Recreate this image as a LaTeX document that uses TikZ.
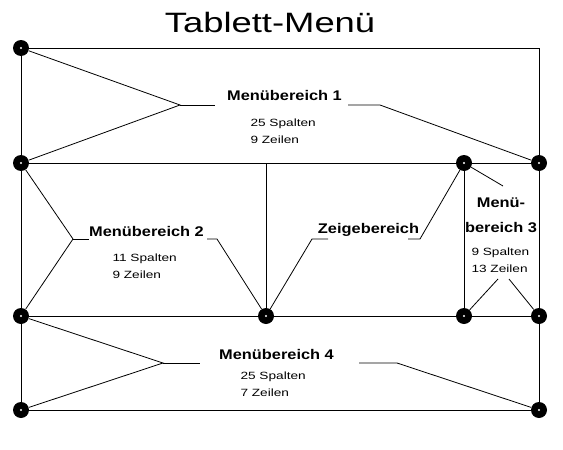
\documentclass[tikz,border=0pt]{standalone}
\usepackage{fontspec}
\setmainfont{Liberation Sans}
\usepackage{tikz}

\tikzset{
  kontakt/.style={circle, fill=black, minimum width=16pt, minimum height=16pt, inner sep=0pt,
    path picture={\fill[white] (path picture bounding box.center) circle (1.2pt);}},
  titel/.style={font=\fontsize{28}{28}\selectfont, xscale=1.3, transform shape, inner sep=0pt, anchor=base},
  bereich/.style={font=\bfseries\fontsize{14}{25}\selectfont, xscale=1.17, transform shape, inner sep=0pt, anchor=base},
  info/.style={font=\fontsize{10.5}{16.5}\selectfont, xscale=1.3, transform shape, inner sep=0pt, align=left, anchor=base west},
  linie/.style={line width=0.8pt}
}

\begin{document}
\begin{tikzpicture}[x=1pt, y=-1pt, linie]
  \useasboundingbox (0,0) rectangle (563,450);
  \node[titel] (title) at (270,32) {Tablett-Menü};

  \node[kontakt] (topLeft) at (21,48) {};
  \coordinate (topRight) at (539,48);
  \node[kontakt] (midLeftA) at (21,163) {};
  \coordinate (midTop) at (266,163);
  \node[kontakt] (area3Top) at (464,163) {};
  \node[kontakt] (midRightA) at (539,163) {};
  \node[kontakt] (midLeftB) at (21,316) {};
  \node[kontakt] (midBottom) at (266,316) {};
  \node[kontakt] (area3Bottom) at (464,316) {};
  \node[kontakt] (midRightB) at (539,316) {};
  \node[kontakt] (bottomLeft) at (21,410) {};
  \node[kontakt] (bottomRight) at (539,410) {};

  \draw (topLeft) -- (topRight) -- (midRightA);
  \draw (midRightA) -- (midRightB) -- (bottomRight) -- (bottomLeft) -- (midLeftB) -- (midLeftA) -- (topLeft);
  \draw (midLeftA) -- (area3Top) -- (midRightA);
  \draw (midLeftB) -- (midBottom) -- (area3Bottom) -- (midRightB);
  \draw (midTop) -- (midBottom);
  \draw (area3Top) -- (area3Bottom);

  \node[bereich] (area1) at (284.5,100) {Menübereich 1};
  \node[info] (area1Size) at (250,143) {25 Spalten\\9 Zeilen};
  \coordinate (area1Fork) at (180,105);
  \coordinate (area1LeftEnd) at (215,105);
  \coordinate (area1RightStart) at (348,105);
  \coordinate (area1Bend) at (380,105);
  \draw (topLeft) -- (area1Fork) -- (midLeftA);
  \draw (area1Fork) -- (area1LeftEnd);
  \draw (area1RightStart) -- (area1Bend) -- (midRightA);

  \node[bereich] (area2) at (146.5,236) {Menübereich 2};
  \node[info] (area2Size) at (112,278) {11 Spalten\\9 Zeilen};
  \coordinate (area2Fork) at (73,239);
  \coordinate (area2LeftEnd) at (89,239);
  \coordinate (area2RightStart) at (207,239);
  \coordinate (area2Bend) at (217,239);
  \draw (midLeftA) -- (area2Fork) -- (midLeftB);
  \draw (area2Fork) -- (area2LeftEnd);
  \draw (area2RightStart) -- (area2Bend) -- (midBottom);

  \node[bereich] (pointer) at (368.5,233) {Zeigebereich};
  \coordinate (pointerLeftBend) at (312,239);
  \coordinate (pointerLeftEnd) at (328,239);
  \coordinate (pointerRightStart) at (408,239);
  \coordinate (pointerRightBend) at (420,239);
  \draw (midBottom) -- (pointerLeftBend) -- (pointerLeftEnd);
  \draw (pointerRightStart) -- (pointerRightBend) -- (area3Top);

  \node[bereich, align=center] (area3) at (501,232) {Menü-\\bereich 3};
  \node[info] (area3Size) at (471,272) {9 Spalten\\13 Zeilen};
  \coordinate (area3TopEnd) at (503,186);
  \coordinate (area3LeftEnd) at (498,279);
  \coordinate (area3RightEnd) at (509,279);
  \draw (area3Top) -- (area3TopEnd);
  \draw (area3LeftEnd) -- (area3Bottom);
  \draw (area3RightEnd) -- (midRightB);

  \node[bereich] (area4) at (276.5,359) {Menübereich 4};
  \node[info] (area4Size) at (240,396) {25 Spalten\\7 Zeilen};
  \coordinate (area4Fork) at (163,363);
  \coordinate (area4LeftEnd) at (200,363);
  \coordinate (area4RightStart) at (359,363);
  \coordinate (area4Bend) at (397,363);
  \draw (midLeftB) -- (area4Fork) -- (bottomLeft);
  \draw (area4Fork) -- (area4LeftEnd);
  \draw (area4RightStart) -- (area4Bend) -- (bottomRight);
\end{tikzpicture}
\end{document}
